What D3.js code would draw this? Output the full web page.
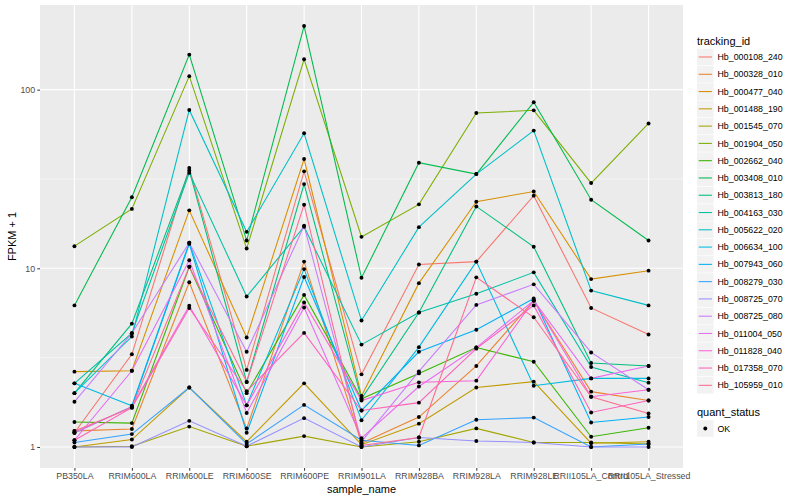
<!DOCTYPE html>
<html><head><meta charset="utf-8">
<script src="https://cdn.jsdelivr.net/npm/d3@7"></script>
<style>body{margin:0;background:#fff}svg{display:block}text{font-family:"Liberation Sans",Arial,sans-serif}</style>
</head><body><svg id="c" width="800" height="500"></svg>
<script>
const samples = ["PB350LA","RRIM600LA","RRIM600LE","RRIM600SE","RRIM600PE","RRIM901LA","RRIM928BA","RRIM928LA","RRIM928LE","RRII105LA_Control","RRII105LA_Stressed"];
const trackingIds = ["Hb_000108_240","Hb_000328_010","Hb_000477_040","Hb_001488_190","Hb_001545_070","Hb_001904_050","Hb_002662_040","Hb_003408_010","Hb_003813_180","Hb_004163_030","Hb_005622_020","Hb_006634_100","Hb_007943_060","Hb_008279_030","Hb_008725_070","Hb_008725_080","Hb_011004_050","Hb_011828_040","Hb_017358_070","Hb_105959_010"];
const hb_000108_240 = [1.2, 3.3, 36.4, 2.7, 34.9, 2.55, 10.5, 10.9, 25.5, 6.0, 4.26];
const hb_000328_010 = [1.23, 1.26, 8.36, 1.27, 10.9, 1.05, 1.47, 2.84, 6.6, 2.04, 1.82];
const hb_000477_040 = [2.64, 2.67, 21.1, 4.1, 40.9, 1.93, 8.26, 23.6, 26.9, 8.7, 9.7];
const hb_001488_190 = [1.0, 1.1, 2.15, 1.07, 2.27, 1.03, 1.35, 2.15, 2.32, 1.05, 1.07];
const hb_001545_070 = [1.0, 1.01, 1.30, 1.01, 1.15, 1.0, 1.07, 1.27, 1.06, 1.06, 1.04];
const hb_001904_050 = [13.3, 21.5, 119, 12.9, 148, 15, 22.8, 74, 76.6, 30, 64.7];
const hb_002662_040 = [1.38, 1.36, 10.2, 2.0, 7.1, 1.86, 2.58, 3.6, 3.0, 1.14, 1.28];
const hb_003408_010 = [6.2, 25, 157, 14.3, 227, 8.85, 39, 33.7, 85, 24.2, 14.3];
const hb_003813_180 = [2.0, 4.9, 35.3, 2.31, 29.6, 1.86, 5.66, 22.2, 13.2, 2.95, 2.84];
const hb_004163_030 = [2.27, 4.33, 34.2, 6.95, 17.1, 3.74, 5.66, 7.2, 9.49, 2.8, 2.29];
const hb_005622_020 = [2.0, 4.15, 77, 16, 57, 5.1, 17, 33.7, 59, 7.5, 6.2];
const hb_006634_100 = [2.27, 1.7, 13.9, 1.71, 9.9, 1.41, 3.62, 10.9, 2.2, 2.42, 2.42];
const hb_007943_060 = [1.2, 1.68, 13.7, 1.2, 8.94, 1.6, 3.41, 4.53, 6.77, 1.37, 1.47];
const hb_008279_030 = [1.06, 1.18, 2.15, 1.04, 1.72, 1.09, 1.02, 1.42, 1.46, 1.0, 1.04];
const hb_008725_070 = [1.0, 1.0, 1.40, 1.01, 1.45, 1.0, 1.13, 1.08, 1.06, 1.0, 1.0];
const hb_008725_080 = [1.79, 4.33, 13.9, 3.41, 17.3, 1.07, 2.65, 6.24, 8.13, 3.38, 2.09];
const hb_011004_050 = [1.09, 2.67, 11.1, 1.55, 6.03, 1.12, 2.18, 3.6, 6.6, 2.42, 2.84];
const hb_011828_040 = [1.2, 1.68, 6.17, 1.71, 6.44, 1.82, 2.30, 2.35, 6.6, 1.91, 2.09];
const hb_017358_070 = [1.09, 1.66, 6.0, 2.05, 4.35, 1.6, 1.77, 3.55, 6.2, 1.56, 1.82];
const hb_105959_010 = [1.23, 1.66, 10.2, 2.31, 22.7, 1.02, 1.13, 8.9, 5.32, 1.91, 1.54];
const seriesValues = [hb_000108_240,hb_000328_010,hb_000477_040,hb_001488_190,hb_001545_070,hb_001904_050,hb_002662_040,hb_003408_010,hb_003813_180,hb_004163_030,hb_005622_020,hb_006634_100,hb_007943_060,hb_008279_030,hb_008725_070,hb_008725_080,hb_011004_050,hb_011828_040,hb_017358_070,hb_105959_010];
const palette = ["#F8766D","#EA8331","#D89000","#C09B00","#A3A500","#7CAE00","#39B600","#00BB4E","#00BF7D","#00C1A3","#00BFC4","#00BAE0","#00B0F6","#35A2FF","#9590FF","#C77CFF","#E76BF3","#FA62DB","#FF62BC","#FF6C91"];
const yTicks = [1, 10, 100];
const quantStatus = ["OK"];

const svg = d3.select("#c");
const P = {l: 40, r: 683, t: 5, b: 468};
const all = seriesValues.flat();
const lmin = Math.log10(d3.min(all)), lmax = Math.log10(d3.max(all));
const ex = (lmax - lmin) * 0.05;
const y = d3.scaleLog().domain([Math.pow(10, lmin - ex), Math.pow(10, lmax + ex)]).range([P.b, P.t]);
const x = d3.scalePoint().domain(samples).range([P.l, P.r]).padding(0.6);

svg.append("rect").attr("x", P.l).attr("y", P.t).attr("width", P.r - P.l).attr("height", P.b - P.t).attr("fill", "#EBEBEB");
const g = svg.append("g");
const minor = [Math.pow(10, 0.5), Math.pow(10, 1.5)];
g.selectAll(".mn").data(minor).enter().append("line")
  .attr("x1", P.l).attr("x2", P.r).attr("y1", d => y(d)).attr("y2", d => y(d))
  .attr("stroke", "#fff").attr("stroke-width", 0.55);
g.selectAll(".mj").data(yTicks).enter().append("line")
  .attr("x1", P.l).attr("x2", P.r).attr("y1", d => y(d)).attr("y2", d => y(d))
  .attr("stroke", "#fff").attr("stroke-width", 1.1);
g.selectAll(".vx").data(samples).enter().append("line")
  .attr("y1", P.t).attr("y2", P.b).attr("x1", d => x(d)).attr("x2", d => x(d))
  .attr("stroke", "#fff").attr("stroke-width", 1.1);

const line = d3.line().x((d, i) => x(samples[i])).y(d => y(d));
seriesValues.forEach((vals, k) => {
  svg.append("path").attr("d", line(vals)).attr("fill", "none")
    .attr("stroke", palette[k]).attr("stroke-width", 1.07);
});
seriesValues.forEach((vals) => {
  svg.append("g").selectAll("circle").data(vals).enter().append("circle")
    .attr("cx", (d, i) => x(samples[i])).attr("cy", d => y(d)).attr("r", 1.95).attr("fill", "#000");
});

const yAxis = svg.append("g").attr("transform", `translate(${P.l},0)`)
  .call(d3.axisLeft(y).tickValues(yTicks).tickFormat(d3.format("d")).tickSize(2.75).tickPadding(2.2));
yAxis.select(".domain").remove();
yAxis.selectAll("line").attr("stroke", "#333");
yAxis.selectAll("text").attr("fill", "#4D4D4D").style("font-size", "8.8px");
const xAxis = svg.append("g").attr("transform", `translate(0,${P.b})`)
  .call(d3.axisBottom(x).tickSize(2.75).tickPadding(2.2));
xAxis.select(".domain").remove();
xAxis.selectAll("line").attr("stroke", "#333");
xAxis.selectAll("text").attr("fill", "#4D4D4D").style("font-size", "8.8px");

svg.append("text").attr("x", (P.l + P.r) / 2).attr("y", 493).attr("text-anchor", "middle")
  .style("font-size", "11px").attr("fill", "#000").text("sample_name");
svg.append("text").attr("transform", `translate(16,${(P.t + P.b) / 2}) rotate(-90)`).attr("text-anchor", "middle")
  .style("font-size", "11px").attr("fill", "#000").text("FPKM + 1");

const L = svg.append("g").attr("transform", "translate(697,0)");
L.append("text").attr("x", 0).attr("y", 44.5).style("font-size", "11px").text("tracking_id");
trackingIds.forEach((id, i) => {
  const cy = 57 + i * 17.28;
  L.append("rect").attr("x", 0).attr("y", cy - 8.3).attr("width", 16.6).attr("height", 16.6).attr("fill", "#F2F2F2");
  L.append("line").attr("x1", 1.7).attr("x2", 14.9).attr("y1", cy).attr("y2", cy).attr("stroke", palette[i]).attr("stroke-width", 1.07);
  L.append("text").attr("x", 20.5).attr("y", cy + 3.1).style("font-size", "8.8px").text(id);
});
L.append("text").attr("x", 0).attr("y", 415.5).style("font-size", "11px").text("quant_status");
quantStatus.forEach((q, i) => {
  const cy = 428.5 + i * 17.28;
  L.append("rect").attr("x", 0).attr("y", cy - 8.3).attr("width", 16.6).attr("height", 16.6).attr("fill", "#F2F2F2");
  L.append("circle").attr("cx", 8.3).attr("cy", cy).attr("r", 1.95).attr("fill", "#000");
  L.append("text").attr("x", 20.5).attr("y", cy + 3.1).style("font-size", "8.8px").text(q);
});
</script></body></html>
